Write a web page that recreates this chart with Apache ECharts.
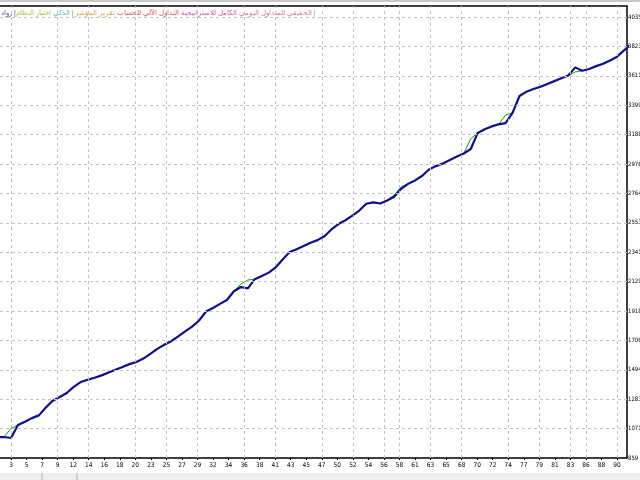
<!DOCTYPE html>
<html><head><meta charset="utf-8">
<script src="https://cdn.jsdelivr.net/npm/echarts@6/dist/echarts.min.js"></script>
<style>html,body{margin:0;padding:0;background:#fff}#c{width:640px;height:480px}</style>
</head><body><div id="c"></div>
<script>
// trade numbers 1..92
const trades = Array.from({length: 92}, (_, i) => i + 1);
const balance = [1010,1010,1003,1097,1120,1146,1166,1223,1272,1298,
1327,1371,1406,1422,1437,1454,1474,1494,1514,1535,
1550,1575,1609,1645,1674,1700,1735,1771,1805,1849,
1914,1939,1969,1997,2060,2090,2080,2147,2169,2194,
2232,2289,2342,2362,2386,2409,2428,2456,2505,2544,
2571,2604,2641,2690,2700,2692,2714,2741,2797,2833,
2858,2890,2937,2961,2980,3005,3030,3052,3084,3200,
3226,3247,3262,3270,3344,3466,3497,3516,3532,3553,
3573,3593,3613,3672,3648,3660,3681,3698,3722,3749,
3794,3841];
const equity = [1010,1010,1072,1097,1120,1146,1166,1223,1272,1298,
1327,1371,1406,1422,1437,1454,1474,1494,1514,1535,
1550,1575,1609,1645,1674,1700,1735,1771,1805,1849,
1914,1939,1969,1997,2060,2112,2141,2147,2169,2194,
2232,2289,2342,2362,2386,2409,2428,2456,2505,2544,
2571,2604,2641,2690,2700,2692,2714,2753,2811,2833,
2858,2890,2937,2961,2980,3005,3030,3052,3158,3200,
3226,3247,3262,3329,3344,3466,3497,3516,3532,3553,
3573,3593,3613,3639,3648,3660,3681,3698,3722,3749,
3794,3841];
const xLabels = [3,5,7,9,12,14,16,18,20,23,25,27,29,32,34,36,38,41,43,45,47,50,52,54,56,58,61,63,65,68,70,72,74,77,79,81,83,86,88,90];
const xGridLabelIdx = [0,3,5,8,10,12,15,17,20,22,24,25,27,29,32,34,36,37,39];
const yLabels = [859,1071,1283,1494,1706,1918,2129,2341,2553,2764,2976,3188,3399,3611,3823,4035];

const X_MIN = 1.42, X_MAX = 91.43, Y_MIN = 859, Y_MAX = 4114;
const tickStep = (xLabels[xLabels.length-1] - xLabels[0]) / (xLabels.length - 1);
const xTickPos = xLabels.map((v, k) => xLabels[0] + k * tickStep);
const font = '"Liberation Sans Narrow","DejaVu Sans Condensed",sans-serif';
const gridLine = {color: '#c4c4c4', type: [3, 3], width: 1};

const chart = echarts.init(document.getElementById('c'), null, {renderer: 'canvas'});
chart.setOption({
  animation: false,
  backgroundColor: '#ffffff',
  grid: {left: 0, right: 13, top: 6, bottom: 22, containLabel: false, outerBoundsMode: 'none'},
  xAxis: [{
    type: 'value', min: X_MIN, max: X_MAX, position: 'bottom',
    axisLine: {show: true, onZero: false, lineStyle: {color: '#000', width: 1.5}},
    axisTick: {show: true, length: 2, customValues: xTickPos, lineStyle: {color: '#000'}},
    axisLabel: {show: true, customValues: xTickPos, margin: 4, fontSize: 6.5, fontFamily: font, color: '#000',
      formatter: v => { const k = Math.round((v - xLabels[0]) / tickStep); return String(xLabels[k]); }},
    splitLine: {show: false}
  }, {
    type: 'value', min: X_MIN, max: X_MAX, position: 'top',
    axisLine: {show: true, onZero: false, lineStyle: {color: '#000', width: 1.5}},
    axisTick: {show: false}, axisLabel: {show: false}, splitLine: {show: false}
  }],
  yAxis: {
    type: 'value', min: Y_MIN, max: Y_MAX, position: 'right',
    axisLine: {show: true, onZero: false, lineStyle: {color: '#000', width: 1.5}},
    axisTick: {show: false, customValues: yLabels},
    axisLabel: {show: true, customValues: yLabels, margin: 1, fontSize: 6, fontFamily: font, color: '#000',
      formatter: v => String(Math.round(v))},
    splitLine: {show: false}
  },
  series: [{
    type: 'line', z: 1, silent: true,
    data: trades.map((t, i) => [t, balance[i]]),
    showSymbol: false, lineStyle: {opacity: 0},
    markLine: {
      silent: true, symbol: ['none', 'none'], label: {show: false}, lineStyle: gridLine,
      emphasis: {disabled: true},
      data: xGridLabelIdx.map(k => ({xAxis: xTickPos[k]}))
        .concat(yLabels.slice(1).map(v => ({yAxis: v})))
    }
  }, {
    name: 'Equity', type: 'line', z: 3,
    data: trades.map((t, i) => [t, equity[i]]),
    showSymbol: false, lineStyle: {color: '#1a9a1a', width: 1}
  }, {
    name: 'Balance', type: 'line', z: 4,
    data: trades.map((t, i) => [t, balance[i]]),
    showSymbol: false, lineStyle: {color: '#10108a', width: 2.2}
  }],
  graphic: [
    {type: 'rect', left: 0, top: 0, shape: {width: 640, height: 2}, style: {fill: '#c8c8c8'}, silent: true},
    {type: 'rect', left: 0, top: 473, shape: {width: 640, height: 7}, style: {fill: '#eeeeee'}, silent: true},
    {type: 'line', shape: {x1: 42, y1: 473, x2: 42, y2: 480}, style: {stroke: '#b0b0b0'}, silent: true},
    {type: 'line', shape: {x1: 77, y1: 473, x2: 77, y2: 480}, style: {stroke: '#b0b0b0'}, silent: true},
    {type: 'text', left: 1, top: 10, silent: true, style: {
      text: '{a|رواد |}{b|اختبار النظام}{c| الذكي |}{d| تقرير المؤشر }{e|التداول الآلي للحساب }{f|الكامل للاستراتيجية }{g|الحقيقي للمتداول اليومي |}',
      font: '7px "DejaVu Sans", sans-serif',
      rich: {
        a: {fill: '#5050b0', fontSize: 7},
        b: {fill: '#b0c040', fontSize: 7},
        c: {fill: '#50c090', fontSize: 7},
        d: {fill: '#e0a040', fontSize: 7},
        e: {fill: '#e05050', fontSize: 7},
        f: {fill: '#d050b0', fontSize: 7},
        g: {fill: '#e070a0', fontSize: 7}
      }
    }}
  ]
});
</script></body></html>
